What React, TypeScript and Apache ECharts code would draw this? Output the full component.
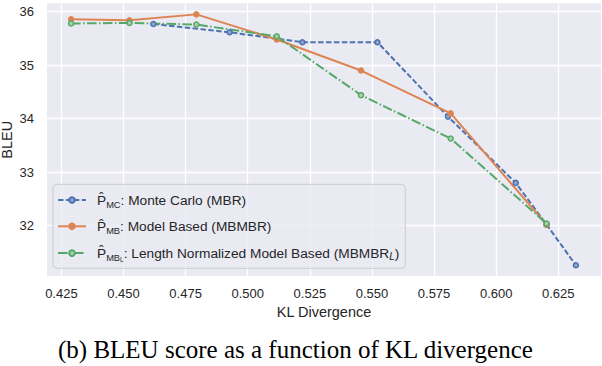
import React, { useEffect, useRef } from "react";
import * as echarts from "echarts";

const xMC = [0.462, 0.4927, 0.522, 0.5522, 0.5806, 0.6079, 0.6203, 0.6321];
const yMC = [35.77, 35.615, 35.43, 35.43, 34.04, 32.8, 32.02, 31.26];
const xMB = [0.4289, 0.4524, 0.4793, 0.5117, 0.5456, 0.5817, 0.6203];
const yMB = [35.86, 35.84, 35.95, 35.48, 34.9, 34.1, 32.02];
const xMBL = [0.4289, 0.4524, 0.4793, 0.5117, 0.5456, 0.5817, 0.6203];
const yMBL = [35.78, 35.79, 35.76, 35.54, 34.44, 33.63, 32.04];
const xTicks = [0.425, 0.45, 0.475, 0.5, 0.525, 0.55, 0.575, 0.6, 0.625];
const yTicks = [32, 33, 34, 35, 36];
const seriesNames = ["MC", "MB", "MBL"];
const caption = "(b) BLEU score as a function of KL divergence";
const yName = "BLEU";

const BLUE = "#4C72B0";
const ORANGE = "#DD8452";
const GREEN = "#55A868";
const SANS = "'Liberation Sans', Arial, sans-serif";

const pairs = (xs: number[], ys: number[]) => xs.map((x, i) => [x, ys[i]]);

export default function App() {
  const ref = useRef<HTMLDivElement>(null);
  useEffect(() => {
    if (!ref.current) return;
    const chart = echarts.init(ref.current, null, { renderer: "svg" });
    const rich = {
      p: { fontFamily: SANS, fontSize: 13.7, lineHeight: 20, color: "#262626", padding: [0, 0, 0, 6] },
      s: { fontFamily: SANS, fontSize: 9.3, lineHeight: 10, color: "#262626", padding: [9, 0, 0, 0] },
      ss: { fontFamily: SANS, fontSize: 6.5, lineHeight: 7, color: "#262626", padding: [12, 0, 0, 0] },
      t: { fontFamily: SANS, fontSize: 13.7, lineHeight: 20, color: "#262626" },
      i: { fontFamily: SANS, fontSize: 10, fontStyle: "italic", lineHeight: 10, color: "#262626", padding: [6, 0, 0, 0] },
    };
    const labelFor: Record<string, string> = {
      MC: "{p|P\u0302}{s|MC}{t|: Monte Carlo (MBR)}",
      MB: "{p|P\u0302}{s|MB}{t|: Model Based (MBMBR)}",
      MBL: "{p|P\u0302}{s|MB}{ss|L}{t|: Length Normalized Model Based (MBMBR}{i|L}{t|)}",
    };
    const mk = (name: string, data: number[][], color: string, fill: string, dash: number[] | string) => ({
      name,
      type: "line",
      data,
      symbol: "circle",
      symbolSize: 5,
      showSymbol: true,
      itemStyle: { color: fill, borderColor: color, borderWidth: 1.5 },
      lineStyle: { color, width: 2, type: dash },
      z: 3,
    });
    chart.setOption({
      animation: false,
      backgroundColor: "#ffffff",
      title: {
        text: caption,
        left: 53,
        top: 332,
        textStyle: { fontFamily: "'Liberation Serif', 'Times New Roman', serif", fontSize: 25, fontWeight: "normal", color: "#000" },
      },
      graphic: [
        {
          type: "text",
          x: 6.5,
          y: 139.7,
          rotation: Math.PI / 2,
          style: { text: yName, fontFamily: SANS, fontSize: 14.5, fill: "#262626", align: "center", verticalAlign: "middle" },
        },
      ],
      grid: { left: 47, right: 1, top: 3.3, bottom: 90, show: true, backgroundColor: "#EAEAF2", borderWidth: 0 },
      xAxis: {
        type: "value",
        min: 0.4192,
        max: 0.6422,
        name: "KL Divergence",
        nameLocation: "middle",
        nameGap: 28,
        nameTextStyle: { fontFamily: SANS, fontSize: 14.5, color: "#262626" },
        axisLine: { show: false },
        axisTick: { show: false, customValues: xTicks },
        axisLabel: { customValues: xTicks, margin: 11, fontFamily: SANS, fontSize: 13, color: "#262626", formatter: (v: number) => v.toFixed(3) },
        splitLine: { show: true, lineStyle: { color: "#ffffff", width: 1.3 } },
      },
      yAxis: {
        type: "value",
        min: 31.06,
        max: 36.157,
        axisLine: { show: false },
        axisTick: { show: false, customValues: yTicks },
        axisLabel: { customValues: yTicks, margin: 13, fontFamily: SANS, fontSize: 13, color: "#262626", formatter: (v: number) => String(v) },
        splitLine: { show: true, lineStyle: { color: "#ffffff", width: 1.3 } },
      },
      legend: {
        data: seriesNames,
        orient: "vertical",
        left: 53,
        top: 184.3,
        padding: [6.7, 6, 5.7, 4],
        itemGap: 8.3,
        itemWidth: 28,
        itemHeight: 7,
        backgroundColor: "rgba(234,234,242,0.8)",
        borderColor: "#cccccc",
        borderWidth: 1,
        borderRadius: 4,
        formatter: (name: string) => labelFor[name],
        textStyle: { rich, fontFamily: SANS, fontSize: 13.7, color: "#262626" },
      },
      series: [
        mk("MC", pairs(xMC, yMC), BLUE, "#8ea4cc", [5.5, 2.4]),
        mk("MB", pairs(xMB, yMB), ORANGE, ORANGE, "solid"),
        mk("MBL", pairs(xMBL, yMBL), GREEN, "#a6d4b2", [9.6, 2.4, 1.5, 2.4]),
      ],
    });
    return () => chart.dispose();
  }, []);
  return <div ref={ref} style={{ position: "absolute", left: 0, top: 0, width: 602, height: 366 }} />;
}
